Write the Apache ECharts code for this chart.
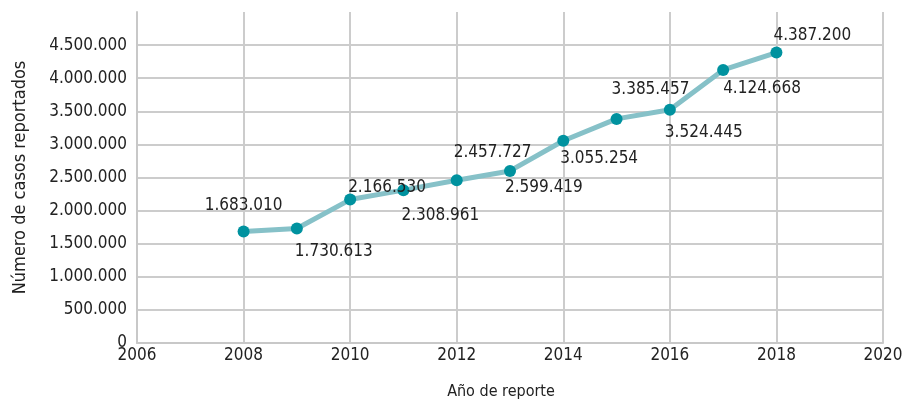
<!DOCTYPE html>
<html>
<head>
<meta charset="utf-8">
<script src="https://cdn.jsdelivr.net/npm/echarts@6/dist/echarts.min.js"></script>
<style>
  html, body { margin: 0; padding: 0; background: #fff; }
  #chart { width: 905px; height: 405px; }
</style>
</head>
<body>
<div id="chart"></div>
<script>
var years = [2008, 2009, 2010, 2011, 2012, 2013, 2014, 2015, 2016, 2017, 2018];
var casos = [1683010, 1730613, 2166530, 2308961, 2457727, 2599419, 3055254, 3385457, 3524445, 4124668, 4387200];

// label placement per point: [dx, dy, align]
var labelPlace = [
    [0, -26, 'center'], [-2, 23, 'left'], [-2, -12, 'left'], [-2, 25, 'left'],
    [-3, -28, 'left'], [-5, 17, 'left'], [-3, 18, 'left'], [-5, -29, 'left'],
    [-5, 23, 'left'], [0, 19, 'left'], [-3, -17, 'left']
];

var fontFam = '"DejaVu Sans Condensed", sans-serif';

function fmt(v) {
    return String(v).replace(/\B(?=(\d{3})+(?!\d))/g, '.');
}

var seriesData = years.map(function (y, i) {
    var p = labelPlace[i];
    return {
        value: [y, casos[i]],
        label: {
            show: true,
            position: 'inside',
            offset: [p[0], p[1]],
            align: p[2],
            verticalAlign: 'middle'
        }
    };
});

var option = {
    animation: false,
    grid: { left: 137, right: 22, top: 12, bottom: 62, outerBoundsMode: 'none' },
    xAxis: {
        type: 'value',
        min: 2006,
        max: 2020,
        interval: 2,
        name: 'Año de reporte',
        nameLocation: 'middle',
        nameGap: 41,
        nameTextStyle: { fontFamily: fontFam, fontSize: 16, color: '#222', padding: [0, 18, 0, 0] },
        axisLine: { show: true, lineStyle: { color: '#c8c8c8', width: 2 } },
        axisTick: { show: false },
        axisLabel: {
            fontFamily: fontFam, fontSize: 17, color: '#222', margin: 4,
            formatter: function (v) { return String(v); }
        },
        splitLine: { show: true, lineStyle: { color: '#cccccc', width: 2 } }
    },
    yAxis: {
        type: 'value',
        min: 0,
        max: 5000000,
        interval: 500000,
        name: 'Número de casos reportados',
        nameLocation: 'middle',
        nameGap: 108,
        nameTextStyle: { fontFamily: fontFam, fontSize: 18, color: '#222' },
        axisLine: { show: true, lineStyle: { color: '#c8c8c8', width: 2 } },
        axisTick: { show: false },
        axisLabel: {
            fontFamily: fontFam, fontSize: 17, color: '#222', margin: 10,
            showMaxLabel: false,
            formatter: function (v) { return fmt(v); }
        },
        splitLine: { show: true, showMaxLine: false, lineStyle: { color: '#cccccc', width: 2 } }
    },
    series: [{
        type: 'line',
        data: seriesData,
        symbol: 'circle',
        symbolSize: 12,
        lineStyle: { color: '#86c1c8', width: 5 },
        itemStyle: { color: '#00929f' },
        label: {
            fontFamily: fontFam,
            fontSize: 17,
            color: '#222',
            formatter: function (p) { return fmt(p.value[1]); }
        }
    }]
};

var myChart = echarts.init(document.getElementById('chart'));
myChart.setOption(option);
</script>
</body>
</html>
